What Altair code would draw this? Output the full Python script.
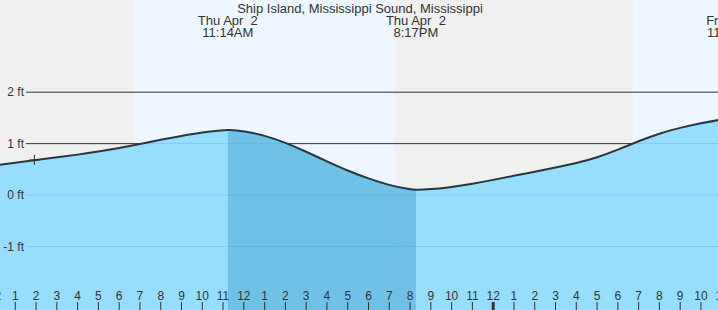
import altair as alt
import pandas as pd

TITLE = "Ship Island, Mississippi Sound, Mississippi"

# tide curve (hours since midnight Thu Apr 2, feet)
tide_hours = [0, 1, 2, 3, 4, 5, 6, 7, 8, 9, 10, 11, 11.23, 12, 13, 14, 15, 16, 17, 18,
              19, 20, 20.28, 21, 22, 23, 24, 25, 26, 27, 28, 29, 30, 31, 32, 33, 34, 35]
tide_feet = [0.575, 0.63, 0.685, 0.735, 0.785, 0.845, 0.915, 0.995, 1.075, 1.15, 1.22, 1.262,
             1.27, 1.245, 1.16, 1.02, 0.845, 0.655, 0.475, 0.32, 0.19, 0.11, 0.10, 0.115, 0.155,
             0.22, 0.295, 0.375, 0.455, 0.535, 0.62, 0.73, 0.88, 1.05, 1.20, 1.31, 1.40, 1.47]

# highlighted falling tide (high -> low)
hi_start = 11.23
lo_end = 20.28

# current time marker
now_hour = [1.92]
now_feet = [0.685]

# day / night shading
bg_start = [-2, 6.71, 19.27, 30.74]
bg_end = [6.71, 19.27, 30.74, 40]
bg_kind = ["night", "day", "night", "day"]

# tide event labels
event_hours = [11.23, 20.28, 35.52]
event_dates = ["Thu Apr\u00a0 2", "Thu Apr\u00a0 2", "Fri Apr\u00a0 3"]
event_times = ["11:14AM", "8:17PM", "11:31AM"]

# y gridlines
grid_feet = [2, 1, 0, -1]
grid_labels = ["2 ft", "1 ft", "0 ft", "-1 ft"]

# hour ticks
tick_hours = list(range(0, 36))
tick_labels = ["12", "1", "2", "3", "4", "5", "6", "7", "8", "9", "10", "11",
               "12", "1", "2", "3", "4", "5", "6", "7", "8", "9", "10", "11",
               "12", "1", "2", "3", "4", "5", "6", "7", "8", "9", "10", "11"]
midnight_hours = [0, 24]

FONT = "Liberation Sans"
TXT = "#333333"
Y_BOTTOM = -2.4

xs = alt.Scale(domain=[0.265, 34.82], nice=False, zero=False)
ys = alt.Scale(domain=[-2.233, 3.792], nice=False, zero=False)

tide = pd.DataFrame({"h": tide_hours, "ft": tide_feet})
bg = pd.DataFrame({"s": bg_start, "e": bg_end, "k": bg_kind})
grid = pd.DataFrame({"ft": grid_feet, "lab": grid_labels})
ticks = pd.DataFrame({"h": tick_hours, "lab": tick_labels})
mids = pd.DataFrame({"h": midnight_hours})
events = pd.DataFrame({"h": event_hours, "d": event_dates, "t": event_times})
now = pd.DataFrame({"h": now_hour, "ft": now_feet})

background = alt.Chart(bg).mark_rect(clip=True).encode(
    x=alt.X("s:Q", scale=xs, axis=None),
    x2="e:Q",
    y=alt.value(0),
    y2=alt.value(310),
    color=alt.Color("k:N", scale=alt.Scale(domain=["night", "day"], range=["#f0f0f0", "#eef7ff"]), legend=None),
)

gridlines = alt.Chart(grid).mark_rule(color="#333333", strokeWidth=1).encode(
    y=alt.Y("ft:Q", scale=ys, axis=None),
    x=alt.value(26),
    x2=alt.value(718),
)

area_light = alt.Chart(tide).mark_area(color="#8cdaff", opacity=0.9, interpolate="basis", clip=True).encode(
    x=alt.X("h:Q", scale=xs, axis=None),
    y=alt.Y("ft:Q", scale=ys, axis=None),
    y2=alt.datum(Y_BOTTOM),
)

area_dark = alt.Chart(tide).transform_filter(
    f"datum.h >= {hi_start} && datum.h <= {lo_end}"
).mark_area(color="#4aa4ce", opacity=0.5, interpolate="basis", clip=True).encode(
    x=alt.X("h:Q", scale=xs, axis=None),
    y=alt.Y("ft:Q", scale=ys, axis=None),
    y2=alt.datum(Y_BOTTOM),
)

curve = alt.Chart(tide).mark_line(color="#333333", strokeWidth=2, interpolate="basis").encode(
    x=alt.X("h:Q", scale=xs, axis=None),
    y=alt.Y("ft:Q", scale=ys, axis=None),
)

marker = alt.Chart(now).mark_point(
    shape="M-1,0L1,0M0,-1L0,1", size=100, filled=False, stroke="#333333", strokeWidth=1, opacity=1
).encode(
    x=alt.X("h:Q", scale=xs, axis=None),
    y=alt.Y("ft:Q", scale=ys, axis=None),
)

grid_text = alt.Chart(grid).mark_text(font=FONT, fontSize=12, color=TXT, align="right", baseline="middle").encode(
    y=alt.Y("ft:Q", scale=ys, axis=None),
    x=alt.value(24),
    text="lab:N",
)

tick_rules = alt.Chart(ticks).mark_rule(color="#333333", strokeWidth=1).encode(
    x=alt.X("h:Q", scale=xs, axis=None),
    y=alt.value(302),
    y2=alt.value(310),
)

mid_rules = alt.Chart(mids).mark_rule(color="#333333", strokeWidth=3).encode(
    x=alt.X("h:Q", scale=xs, axis=None),
    y=alt.value(302),
    y2=alt.value(310),
)

tick_text = alt.Chart(ticks).mark_text(font=FONT, fontSize=12, color=TXT, align="center", baseline="alphabetic").encode(
    x=alt.X("h:Q", scale=xs, axis=None),
    y=alt.value(300),
    text="lab:N",
)

ev_date = alt.Chart(events).mark_text(font=FONT, fontSize=13, color=TXT, align="center", baseline="alphabetic").encode(
    x=alt.X("h:Q", scale=xs, axis=None),
    y=alt.value(25),
    text="d:N",
)

ev_time = alt.Chart(events).mark_text(font=FONT, fontSize=13, color=TXT, align="center", baseline="alphabetic").encode(
    x=alt.X("h:Q", scale=xs, axis=None),
    y=alt.value(36.5),
    text="t:N",
)

title = alt.Chart(pd.DataFrame({"t": [TITLE]})).mark_text(
    font=FONT, fontSize=13, color=TXT, align="center", baseline="alphabetic"
).encode(
    x=alt.value(360),
    y=alt.value(12.7),
    text="t:N",
)

chart = alt.layer(
    background, gridlines, area_light, area_dark, curve, marker,
    grid_text, tick_rules, mid_rules, tick_text, ev_date, ev_time, title
).properties(
    width=718, height=310, autosize=alt.AutoSizeParams(type="none"), padding=0
).configure_view(stroke=None)

chart.save("out.html", embed_options={"renderer": "svg", "actions": False})
